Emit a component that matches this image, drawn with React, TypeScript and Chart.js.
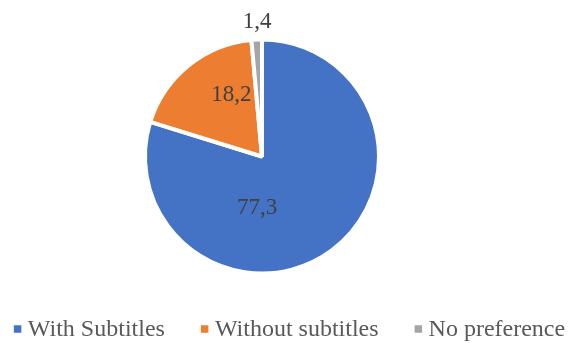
import React, { useEffect, useRef } from "react";
import { Chart, registerables } from "chart.js";

Chart.register(...registerables);

const CATEGORIES = ["With Subtitles", "Without subtitles", "No preference"];
const VALUES = [77.3, 18.2, 1.4];
const COLORS = ["#4472C4", "#ED7D31", "#A5A5A5"];

// label placement (style): angle in degrees clockwise from 12 o'clock, distance as fraction of radius
const LABEL_PLACEMENT = [
  { angle: 185.5, r: 0.45 },
  { angle: 333.6, r: 0.6 },
  { angle: 357.9, r: 1.17 },
];

const FONT_FAMILY = "'Times New Roman', 'Liberation Serif', serif";

const valueLabels = {
  id: "valueLabels",
  afterDatasetsDraw(chart: any) {
    const meta = chart.getDatasetMeta(0);
    const ctx = chart.ctx;
    ctx.save();
    ctx.font = `23px ${FONT_FAMILY}`;
    ctx.fillStyle = "#404040";
    ctx.textAlign = "center";
    ctx.textBaseline = "middle";
    meta.data.forEach((arc: any, i: number) => {
      const p = LABEL_PLACEMENT[i];
      const R = arc.outerRadius - 2;
      const a = (p.angle * Math.PI) / 180;
      const x = arc.x + Math.sin(a) * R * p.r;
      const y = arc.y - Math.cos(a) * R * p.r;
      const v = chart.data.datasets[0].data[i];
      ctx.fillText(String(v).replace(".", ","), x, y);
    });
    ctx.restore();
  },
};

// Legend drawn in the reserved space under the chart area
const LEGEND_STYLE = { box: 7.5, boxGap: 6.5, itemGap: 36, centerX: 289.5, offsetBelow: 47, fontSize: 24 };

const bottomLegend = {
  id: "bottomLegend",
  afterDraw(chart: any) {
    const ctx = chart.ctx;
    const s = LEGEND_STYLE;
    const colors = chart.data.datasets[0].backgroundColor;
    const labels: string[] = chart.data.labels;
    ctx.save();
    ctx.font = `${s.fontSize}px ${FONT_FAMILY}`;
    ctx.textBaseline = "middle";
    ctx.textAlign = "left";
    const widths = labels.map((t) => ctx.measureText(t).width);
    const total =
      widths.reduce((a, b) => a + b, 0) + labels.length * (s.box + s.boxGap) + (labels.length - 1) * s.itemGap;
    let x = s.centerX - total / 2;
    const y = chart.chartArea.bottom + s.offsetBelow;
    labels.forEach((t, i) => {
      ctx.fillStyle = colors[i];
      ctx.fillRect(x, y - s.box / 2 - 1, s.box, s.box);
      x += s.box + s.boxGap;
      ctx.fillStyle = "#595959";
      ctx.fillText(t, x, y);
      x += widths[i] + s.itemGap;
    });
    ctx.restore();
  },
};

export default function App() {
  const ref = useRef<HTMLCanvasElement>(null);
  useEffect(() => {
    const chart = new Chart(ref.current!, {
      type: "pie",
      data: {
        labels: CATEGORIES,
        datasets: [
          {
            data: VALUES,
            backgroundColor: COLORS,
            borderColor: "#ffffff",
            borderWidth: 4,
            radius: 117,
          } as any,
        ],
      },
      options: {
        responsive: false,
        animation: false,
        layout: { padding: { top: 30, bottom: 60, left: 0, right: 44 } },
        plugins: {
          tooltip: { enabled: false },
          legend: { display: false },
        },
      },
      plugins: [valueLabels, bottomLegend],
    });
    return () => chart.destroy();
  }, []);
  return (
    <div style={{ position: "fixed", left: 0, top: 0, width: 568, height: 343, background: "#fff" }}>
      <canvas ref={ref} width={568} height={343} />
    </div>
  );
}
